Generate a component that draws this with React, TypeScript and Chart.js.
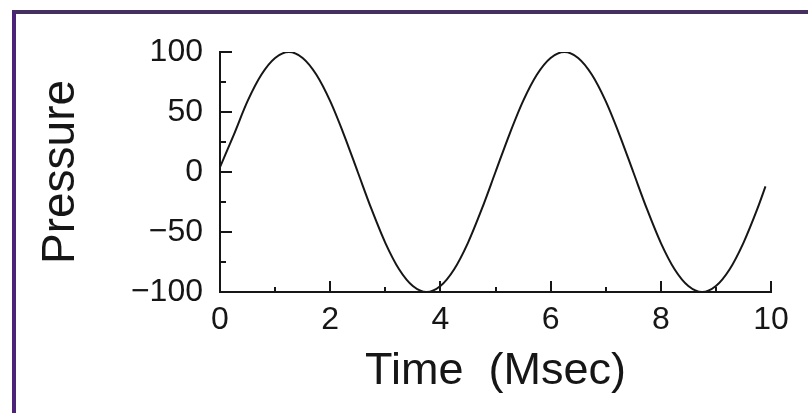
import React, { useEffect, useRef } from "react";
import { Chart, registerables } from "chart.js";

Chart.register(...registerables);

// Pressure wave sampled every 0.25 ms
const TIME_MS = [
  0, 0.25, 0.5, 0.75, 1, 1.25, 1.5, 1.75, 2, 2.25,
  2.5, 2.75, 3, 3.25, 3.5, 3.75, 4, 4.25, 4.5, 4.75,
  5, 5.25, 5.5, 5.75, 6, 6.25, 6.5, 6.75, 7, 7.25,
  7.5, 7.75, 8, 8.25, 8.5, 8.75, 9, 9.25, 9.5, 9.75, 9.9,
];
const PRESSURE = [
  4, 31, 59, 81, 95, 100, 95, 81, 59, 31,
  0, -31, -59, -81, -95, -100, -95, -81, -59, -31,
  0, 31, 59, 81, 95, 100, 95, 81, 59, 31,
  0, -31, -59, -81, -95, -100, -95, -81, -59, -31, -12,
];

const X_MAJOR = [2, 4, 6, 8, 10];
const X_MINOR = [1, 3, 5, 7, 9];
const Y_MAJOR = [-50, 0, 50, 100];
const Y_MINOR = [-75, -25, 25, 75];

const X_TITLE = "Time  (Msec)";
const Y_TITLE = "Pressure";

const INK = "#161616";
const FONT = "'Liberation Sans', Arial, sans-serif";

// Inward-pointing tick marks on both axes
const inwardTicks = {
  id: "inwardTicks",
  afterDraw(chart: any) {
    const { ctx, scales } = chart;
    const xs = scales.x;
    const ys = scales.y;
    const x0 = xs.left;
    const y0 = ys.bottom;
    ctx.save();
    ctx.strokeStyle = INK;
    ctx.lineWidth = 2;
    ctx.beginPath();
    const vTick = (v: number, len: number) => {
      const px = Math.round(xs.getPixelForValue(v));
      ctx.moveTo(px, y0);
      ctx.lineTo(px, y0 - len);
    };
    const hTick = (v: number, len: number) => {
      const py = Math.round(ys.getPixelForValue(v));
      ctx.moveTo(x0, py);
      ctx.lineTo(x0 + len, py);
    };
    X_MAJOR.forEach((v) => vTick(v, 11));
    X_MINOR.forEach((v) => vTick(v, 5));
    Y_MAJOR.forEach((v) => hTick(v, 12));
    Y_MINOR.forEach((v) => hTick(v, 6));
    ctx.stroke();
    ctx.restore();
  },
};

export default function App() {
  const canvasRef = useRef<HTMLCanvasElement | null>(null);

  useEffect(() => {
    const canvas = canvasRef.current;
    if (!canvas) return;
    const chart = new Chart(canvas, {
      type: "line",
      data: {
        datasets: [
          {
            data: TIME_MS.map((t, i) => ({ x: t, y: PRESSURE[i] })),
            borderColor: INK,
            borderWidth: 2,
            pointRadius: 0,
            cubicInterpolationMode: "monotone",
            fill: false,
          },
        ],
      },
      options: {
        responsive: false,
        animation: false,
        devicePixelRatio: 1,
        layout: { padding: { top: 52, right: 37, left: 0, bottom: 0 } },
        plugins: {
          legend: { display: false },
          tooltip: { enabled: false },
        },
        scales: {
          x: {
            type: "linear",
            min: 0,
            max: 10,
            grid: { display: false, drawTicks: false },
            border: { display: true, color: INK, width: 2 },
            ticks: {
              stepSize: 2,
              padding: 9,
              color: INK,
              font: { family: FONT, size: 32 },
              maxRotation: 0,
            },
            title: {
              display: true,
              text: X_TITLE,
              color: INK,
              font: { family: FONT, size: 45, lineHeight: 1 },
              padding: { top: 0, bottom: 19 },
            },
            afterFit(scale: any) {
              scale.height = 121;
            },
          },
          y: {
            type: "linear",
            min: -100,
            max: 100,
            grid: { display: false, drawTicks: false },
            border: { display: true, color: INK, width: 2 },
            ticks: {
              stepSize: 50,
              padding: 17,
              color: INK,
              font: { family: FONT, size: 32 },
              callback: (v: any) => String(v).replace("-", "\u2212"),
            },
            title: {
              display: true,
              text: Y_TITLE,
              color: INK,
              font: { family: FONT, size: 46, lineHeight: 1 },
              padding: { top: 38, bottom: 0 },
            },
            afterFit(scale: any) {
              scale.width = 220;
            },
          },
        },
      },
      plugins: [inwardTicks],
    } as any);
    return () => chart.destroy();
  }, []);

  return (
    <div
      style={{
        position: "fixed",
        left: 0,
        top: 0,
        width: 808,
        height: 413,
        background: "#ffffff",
        overflow: "hidden",
      }}
    >
      <canvas
        ref={canvasRef}
        width={808}
        height={413}
        style={{ position: "absolute", left: 0, top: 0, width: 808, height: 413 }}
      />
      <div
        style={{
          position: "absolute",
          left: 12,
          top: 10,
          width: 800,
          height: 410,
          borderLeft: "4px solid #4b2378",
          borderTop: "4px solid #45305f",
          pointerEvents: "none",
        }}
      />
    </div>
  );
}
